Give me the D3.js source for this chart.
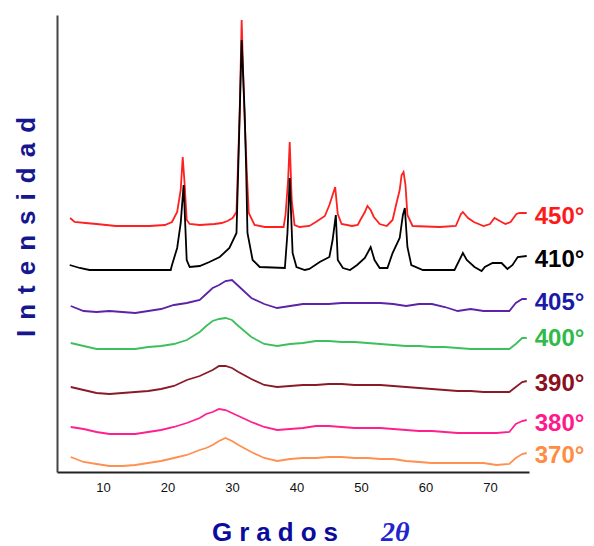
<!DOCTYPE html>
<html>
<head>
<meta charset="utf-8">
<script src="https://d3js.org/d3.v7.min.js"></script>
<style>
  body { margin: 0; background: #fff; }
  svg { display: block; font-family: "Liberation Sans", Arial, sans-serif; }
</style>
</head>
<body>
<div id="chart-area"></div>
<script>
// XRD patterns, calcination temperature series (stacked)

const labels = ["450°", "410°", "405°", "400°", "390°", "380°", "370°"]
const offsets = [245, 202, 159, 123, 78, 38, 6]
const xTicks = [10, 20, 30, 40, 50, 60, 70]

// crystalline patterns
const theta450 = [4.9, 5.6, 7.3, 9.0, 12.0, 17.2, 19.6, 20.7, 21.5, 22.05, 22.36, 22.67, 22.98, 23.44, 25.0,
  27.3, 28.4, 29.3, 30.1, 30.7, 31.2, 31.5, 31.9, 32.3, 32.6, 33.5, 35.1, 38.0, 38.3, 38.7, 38.95, 39.26,
  39.7, 40.5, 42.0, 43.0, 44.4, 45.1, 45.6, 46.0, 46.4, 47.0, 48.6, 49.5, 49.9, 50.6, 51.0, 51.5, 52.0,
  52.9, 54.0, 54.9, 55.4, 56.0, 56.3, 56.6, 56.9, 57.2, 58.0, 62.2, 64.7, 65.5, 65.8, 66.6, 67.5, 69.0,
  70.0, 70.7, 71.8, 72.4, 73.2, 74.1, 74.6, 75.7]
const i450 = [9, 5, 4, 3, 1, 1, 2, 5, 15, 37, 70, 42, 7, 3, 2,
  3, 4, 6, 9, 15, 117, 207, 117, 55, 14, 2, 0, 0, 12, 47, 85, 27,
  2, 0, 1, 5, 11, 22, 32, 40, 13, 3, 1, 2, 7, 15, 21, 17, 10,
  3, 1, 7, 21, 37, 52, 55, 42, 12, 1, 0, 1, 13, 15, 9, 5, 1,
  3, 9, 5, 3, 5, 13, 14, 14]

const theta410 = [4.84, 6.4, 7.9, 14.1, 20.5, 20.7, 21.5, 22.05, 22.5, 22.98, 23.44, 25.0, 26.5, 28.1, 29.6,
  30.7, 31.2, 31.5, 31.97, 32.2, 32.4, 33.2, 34.3, 38.2, 38.6, 38.95, 39.4, 40.0, 41.3, 42.0, 43.6, 45.1,
  45.6, 46.1, 46.4, 47.2, 48.3, 49.4, 50.6, 51.5, 52.1, 52.9, 54.1, 54.9, 56.0, 56.5, 56.8, 57.2, 57.8,
  59.6, 64.5, 65.8, 66.4, 67.6, 68.7, 69.2, 70.4, 71.8, 72.7, 73.5, 74.3, 75.7]
const i410 = [5, 2, 0, 0, 0, 5, 22, 47, 85, 10, 3, 4, 8, 13, 22,
  37, 157, 230, 157, 100, 37, 10, 3, 2, 37, 92, 17, 3, 0, 1, 8, 13,
  30, 55, 10, 2, 0, 5, 12, 23, 10, 2, 2, 17, 32, 55, 62, 23, 5,
  0, 0, 17, 10, 3, -1, 3, 7, 7, 1, 5, 13, 14]

// amorphous patterns share one 2θ grid
const thetaAm = [5, 7, 9, 11, 13, 15, 17, 19, 21, 23, 25, 26, 27, 28, 29, 30, 31, 33, 35, 37, 39, 41, 43, 45,
  47, 49, 51, 53, 55, 57, 59, 61, 63, 65, 67, 69, 71, 73, 74, 75, 75.7]
const i405 = [7, 2, 1, 2, 1, 0, 2, 4, 8, 10, 13, 19, 25, 28, 32, 33, 27, 15, 9, 5, 7, 9, 9, 9,
  10, 10, 10, 10, 9, 7, 9, 9, 6, 2, 4, 2, 2, 2, 10, 14, 14]
const i400 = [6, 3, 0, 0, 0, 0, 2, 3, 5, 9, 17, 23, 28, 30, 31, 29, 23, 12, 5, 3, 5, 6, 8, 8,
  7, 7, 6, 5, 4, 3, 3, 2, 2, 1, 0, 0, 0, 0, 5, 11, 11]
const i390 = [7, 4, 1, 0, 1, 2, 3, 5, 8, 14, 18, 21, 24, 28, 28, 26, 22, 15, 9, 7, 8, 9, 9, 10,
  10, 9, 9, 9, 8, 7, 6, 5, 4, 3, 3, 2, 2, 2, 7, 12, 13]
const i380 = [7, 5, 2, 0, 0, 0, 2, 4, 7, 11, 16, 20, 22, 25, 24, 21, 18, 12, 7, 4, 5, 6, 8, 8,
  7, 6, 6, 6, 5, 4, 3, 3, 2, 1, 1, 1, 1, 2, 10, 13, 14]
const i370 = [9, 4, 2, 0, 0, 1, 3, 5, 8, 11, 16, 18, 21, 25, 28, 25, 21, 14, 8, 5, 7, 8, 8, 9,
  9, 8, 8, 7, 7, 5, 4, 3, 3, 3, 3, 3, 1, 2, 8, 12, 13]

const lineColors = ["#ff2020", "#000000", "#5c22a8", "#3cbf5c", "#8a1a28", "#ff1f8e", "#ff9050"]
const labelColors = ["#ff1a1a", "#000000", "#1a1aa8", "#2fba4a", "#8b1020", "#ff1a8c", "#ff8c42"]

const MARGIN = { LEFT: 57, RIGHT: 65, TOP: 15, BOTTOM: 74 }
const WIDTH = 594 - MARGIN.LEFT - MARGIN.RIGHT
const HEIGHT = 546 - MARGIN.TOP - MARGIN.BOTTOM

const svg = d3.select("#chart-area").append("svg")
  .attr("width", 594)
  .attr("height", 546)

const g = svg.append("g")
  .attr("transform", "translate(" + MARGIN.LEFT + ", " + MARGIN.TOP + ")")

const x = d3.scaleLinear()
  .domain([2.87, 76.05])
  .range([0, WIDTH])

const y = d3.scaleLinear()
  .domain([0, HEIGHT])
  .range([HEIGHT, 0])

const series = [
  d3.zip(theta450, i450),
  d3.zip(theta410, i410),
  d3.zip(thetaAm, i405),
  d3.zip(thetaAm, i400),
  d3.zip(thetaAm, i390),
  d3.zip(thetaAm, i380),
  d3.zip(thetaAm, i370)
]

// axes
const xAxisCall = d3.axisBottom(x)
  .tickValues(xTicks)
  .tickSize(0)
  .tickSizeOuter(0)
  .tickPadding(11)
const xAxis = g.append("g")
  .attr("class", "x axis")
  .attr("transform", "translate(0, " + HEIGHT + ")")
  .call(xAxisCall)
xAxis.select(".domain").attr("stroke", "#222").attr("stroke-width", 2)
xAxis.selectAll("text")
  .attr("font-size", "13px")
  .attr("font-family", "Liberation Sans, Arial, sans-serif")
  .attr("fill", "#111")

const yAxisCall = d3.axisLeft(y).tickValues([]).tickSizeOuter(0)
const yAxis = g.append("g")
  .attr("class", "y axis")
  .call(yAxisCall)
yAxis.select(".domain").attr("stroke", "#444").attr("stroke-width", 2)

// patterns
series.forEach(function(s, i) {
  const line = d3.line()
    .x(function(d) { return x(d[0]) })
    .y(function(d) { return y(d[1] + offsets[i]) })

  g.append("path")
    .datum(s)
    .attr("fill", "none")
    .attr("stroke", lineColors[i])
    .attr("stroke-width", 1.8)
    .attr("d", line)

  const last = s[s.length - 1]
  g.append("text")
    .attr("x", x(last[0]) + 8)
    .attr("y", y(offsets[i]) - 3)
    .attr("font-size", "24px")
    .attr("font-weight", "bold")
    .attr("fill", labelColors[i])
    .text(labels[i])
})

// X label
const xLabel = svg.append("text")
  .attr("x", 212)
  .attr("y", 541)
  .attr("font-size", "26px")
  .attr("font-weight", "bold")
  .attr("fill", "#0c0c9c")
xLabel.append("tspan")
  .attr("letter-spacing", "7px")
  .text("Grados")
xLabel.append("tspan")
  .attr("x", 381)
  .attr("font-style", "italic")
  .attr("font-size", "28px")
  .attr("font-family", "Liberation Serif, serif")
  .attr("fill", "#2323d0")
  .text("2θ")

// Y label
svg.append("text")
  .attr("transform", "translate(35, 337) rotate(-90)")
  .attr("font-size", "26px")
  .attr("font-weight", "bold")
  .attr("letter-spacing", "10px")
  .attr("fill", "#16168f")
  .text("Intensidad")
</script>
</body>
</html>
